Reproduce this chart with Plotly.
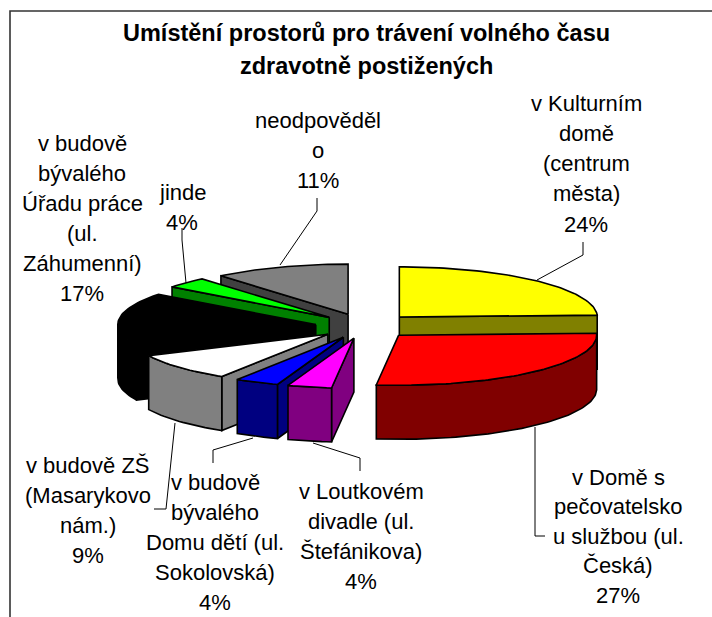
import math
import plotly.graph_objects as go

# ---- data (clockwise from 12 o'clock), percentages
categories = ["v Kulturním domě (centrum města)", "v Domě s pečovatelskou službou (ul. Česká)",
              "v Loutkovém divadle (ul. Štefánikova)", "v budově bývalého Domu dětí (ul. Sokolovská)",
              "v budově ZŠ (Masarykovo nám.)", "v budově bývalého Úřadu práce (ul. Záhumenní)",
              "jinde", "neodpovědělo"]
values = [24.4, 27.4, 3.6, 3.6, 9.0, 17.4, 3.5, 11.1]
label_lines = [
    ["v Kulturním", "domě", "(centrum", "města)", "24%"],
    ["v Domě s", "pečovatelsko", "u službou (ul.", "Česká)", "27%"],
    ["v Loutkovém", "divadle (ul.", "Štefánikova)", "4%"],
    ["v budově", "bývalého", "Domu dětí (ul.", "Sokolovská)", "4%"],
    ["v budově ZŠ", "(Masarykovo", "nám.)", "9%"],
    ["v budově", "bývalého", "Úřadu práce", "(ul.", "Záhumenní)", "17%"],
    ["jinde", "4%"],
    ["neodpověděl", "o", "11%"],
]
title_lines = ["Umístění prostorů pro trávení volného času", "zdravotně postižených"]

# ---- styles and layout
top_colors = ["#FFFF00", "#FF0000", "#FF00FF", "#0000FF", "#FFFFFF", "#000000", "#00FF00", "#808080"]
side_colors = ["#808000", "#800000", "#800080", "#000080", "#808080", "#000000", "#008000", "#404040"]
draw_order = [7, 6, 5, 4, 3, 2, 0, 1]
label_pos = [(586, 103), (618, 477), (361, 491), (215, 482), (88, 465), (82, 143), (182, 192), (318, 120)]
label_step = [30.3, 29.6, 30, 30.2, 30, 30, 30, 30]
leaders = [
    [(537, 280), (583, 255), (583, 242)],
    [(535, 427), (535, 536), (545, 536)],
    [(313, 443), (360, 458), (360, 471)],
    [(253, 438), (213, 450), (213, 463)],
    [(175, 423), (166, 509), (154, 509)],
    None,
    [(186, 283), (182, 240), (182, 228)],
    [(280, 265), (317, 211), (317, 198)],
]
CX, CY, R, K, EXPLODE, H = 365, 326, 198, 0.253, 49.5, 54
W, HT = 712, 617


def project(theta, radius, ox, oy, drop=0.0):
    return (ox + radius * math.sin(theta), oy - K * radius * math.cos(theta) + drop)


fig = go.Figure()


def poly(points, fill):
    fig.add_trace(go.Scatter(x=[p[0] for p in points], y=[p[1] for p in points],
                             mode="lines", fill="toself", fillcolor=fill,
                             line=dict(color="#000000", width=1.6), hoverinfo="skip",
                             showlegend=False))


total = sum(values)
cum = [0.0]
for v in values:
    cum.append(cum[-1] + v)

for i in draw_order:
    a = 2 * math.pi * cum[i] / total
    b = 2 * math.pi * cum[i + 1] / total
    mid = (a + b) / 2
    ox, oy = project(mid, EXPLODE, CX, CY)
    n = max(6, int((b - a) * 40))
    arc = [a + (b - a) * j / n for j in range(n + 1)]
    apex = (ox, oy)
    if math.sin(a) < -1e-6:
        poly([apex, project(a, R, ox, oy), project(a, R, ox, oy, H), (ox, oy + H), apex], side_colors[i])
    if math.sin(b) > 1e-6:
        poly([apex, project(b, R, ox, oy), project(b, R, ox, oy, H), (ox, oy + H), apex], side_colors[i])
    front = [t for t in arc if math.cos(t) < 0.02]
    if front:
        wall = [project(t, R, ox, oy) for t in front] + [project(t, R, ox, oy, H) for t in reversed(front)]
        poly(wall + wall[:1], side_colors[i])
    top = [apex] + [project(t, R, ox, oy) for t in arc] + [apex]
    poly(top, top_colors[i])

for path in leaders:
    if path:
        fig.add_trace(go.Scatter(x=[p[0] for p in path], y=[p[1] for p in path], mode="lines",
                                 line=dict(color="#000000", width=1), hoverinfo="skip", showlegend=False))

# chart frame: top and left edges only reach the picture
fig.add_trace(go.Scatter(x=[10, 10, W], y=[HT, 11, 11], mode="lines",
                         line=dict(color="#333333", width=1.6), hoverinfo="skip", showlegend=False))

annotations = []
for lines, (x, y0), step in zip(label_lines, label_pos, label_step):
    for j, line in enumerate(lines):
        annotations.append(dict(x=x, y=y0 + j * step, text=line, showarrow=False, xanchor="center",
                                yanchor="middle", font=dict(family="Liberation Sans", size=22, color="#000000")))
for j, line in enumerate(title_lines):
    annotations.append(dict(x=366, y=33 + j * 33, text="<b>" + line + "</b>", showarrow=False, xanchor="center",
                            yanchor="middle", font=dict(family="Liberation Sans", size=23.5, color="#000000")))

fig.update_layout(
    width=W, height=HT, margin=dict(l=0, r=0, t=0, b=0),
    paper_bgcolor="#FFFFFF", plot_bgcolor="#FFFFFF", showlegend=False,
    xaxis=dict(range=[0, W], visible=False, fixedrange=True),
    yaxis=dict(range=[HT, 0], visible=False, fixedrange=True),
    annotations=annotations,
)
fig.write_html("out.html", config=dict(displayModeBar=False),
               post_script="document.body.style.margin='0';document.body.style.overflow='hidden';")
